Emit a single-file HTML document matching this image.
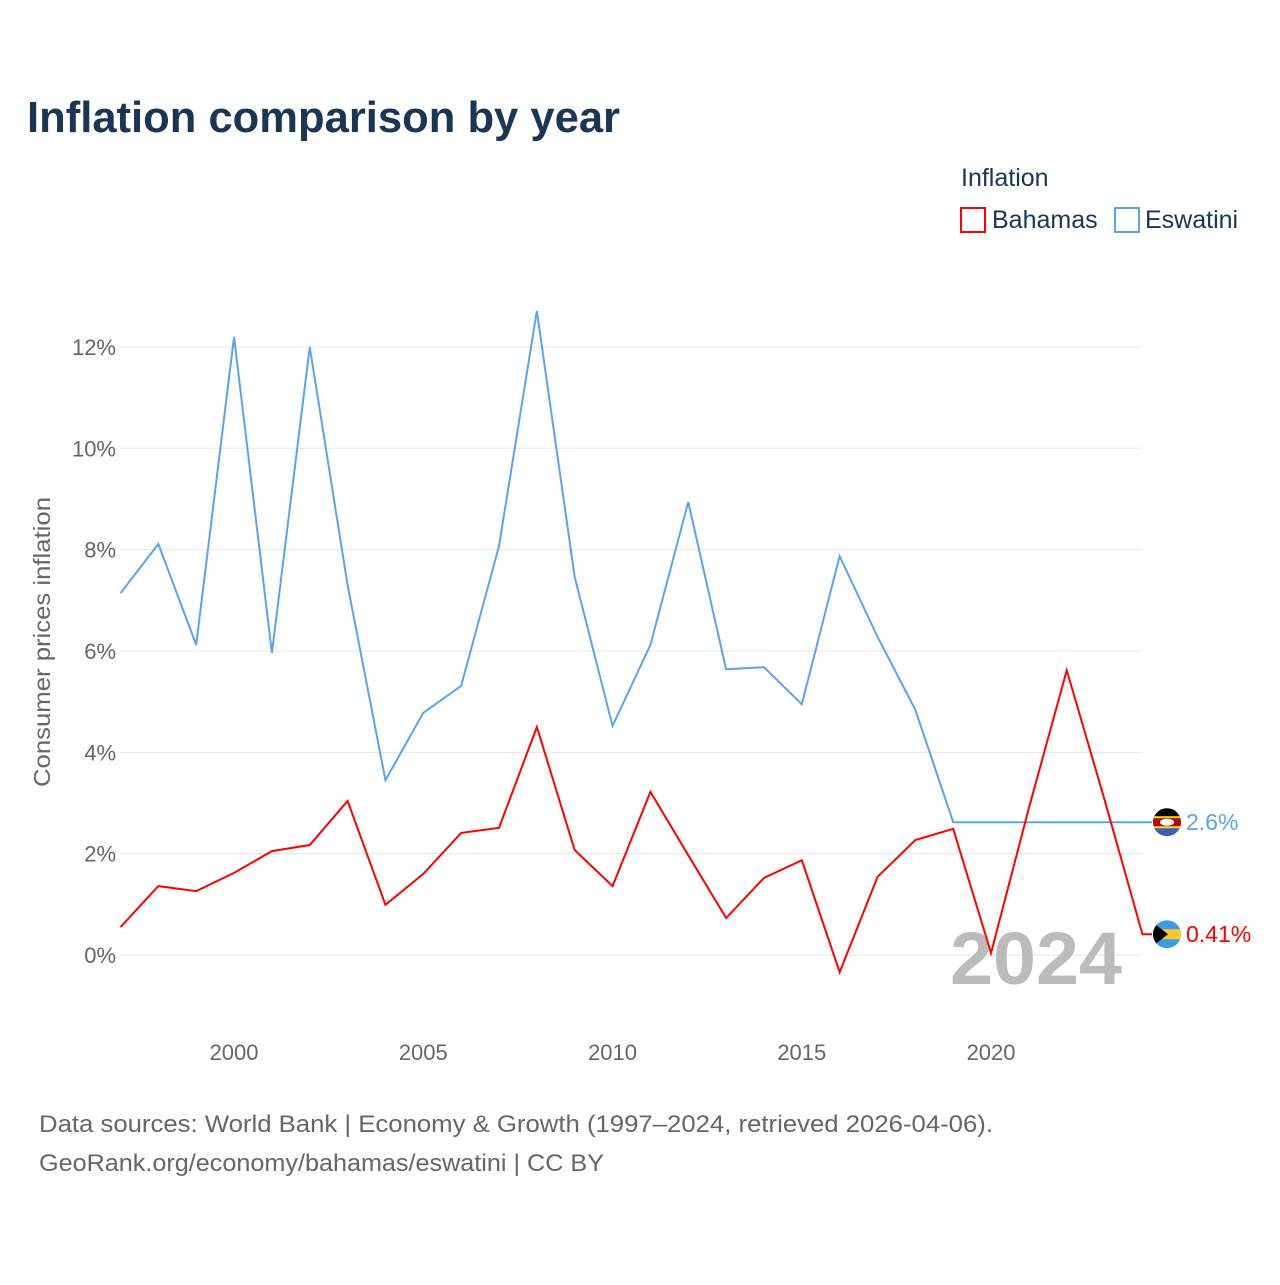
<!DOCTYPE html>
<html><head><meta charset="utf-8"><style>
body{margin:0;background:#fff;font-family:"Liberation Sans",sans-serif;}
</style></head><body>
<svg width="1280" height="1280" viewBox="0 0 1280 1280" xmlns="http://www.w3.org/2000/svg">
<defs><clipPath id="ce"><circle cx="1167" cy="822" r="14"/></clipPath><clipPath id="cb"><circle cx="1167" cy="934" r="14"/></clipPath></defs>
<rect width="1280" height="1280" fill="#fff"/>
<text x="27" y="132" font-size="44" font-weight="bold" fill="#1b3554" textLength="593" lengthAdjust="spacingAndGlyphs">Inflation comparison by year</text>
<text x="961" y="186" font-size="25" fill="#1b3554">Inflation</text>
<g><rect x="961" y="208" width="24" height="24" fill="none" stroke="#f00" stroke-width="2"/><text x="992" y="228" font-size="25" fill="#1b3554">Bahamas</text></g>
<g><rect x="1115" y="208" width="24" height="24" fill="none" stroke="#5aa5ea" stroke-width="2"/><text x="1145" y="228" font-size="25" fill="#1b3554">Eswatini</text></g>
<g id="grid"></g>
<g id="yticks"></g>
<g id="xticks"></g>
<text transform="translate(50,642) rotate(-90)" text-anchor="middle" font-size="23" fill="#666" textLength="290" lengthAdjust="spacingAndGlyphs">Consumer prices inflation</text>
<text x="950" y="984" font-size="74" font-weight="bold" fill="#bbb" textLength="172" lengthAdjust="spacingAndGlyphs">2024</text>
<g id="series"></g>
<text x="39" y="1132" font-size="24" fill="#666" textLength="954" lengthAdjust="spacingAndGlyphs">Data sources: World Bank | Economy &amp; Growth (1997–2024, retrieved 2026-04-06).</text>
<text x="39" y="1171" font-size="24" fill="#666" textLength="565" lengthAdjust="spacingAndGlyphs">GeoRank.org/economy/bahamas/eswatini | CC BY</text>
</svg>
<script>
const years=[1997,1998,1999,2000,2001,2002,2003,2004,2005,2006,2007,2008,2009,2010,2011,2012,2013,2014,2015,2016,2017,2018,2019,2020,2021,2022,2023,2024];
const eswatini=[7.14,8.11,6.12,12.2,5.96,12.0,7.3,3.45,4.78,5.31,8.07,12.71,7.46,4.52,6.12,8.94,5.64,5.68,4.95,7.87,6.28,4.84,2.62];
const bahamas=[0.55,1.36,1.26,1.62,2.05,2.17,3.04,0.99,1.6,2.41,2.51,4.5,2.07,1.36,3.22,1.97,0.73,1.52,1.87,-0.34,1.54,2.27,2.49,0.04,2.9,5.62,3.06,0.41];
const yTicks=[0,2,4,6,8,10,12];
const xTicks=[2000,2005,2010,2015,2020];
const NS="http://www.w3.org/2000/svg";
const x=v=>120.5+(v-1997)*37.85;
const y=v=>955-v*50.67;
function mk(tag,attrs,parent){const e=document.createElementNS(NS,tag);for(const k in attrs)e.setAttribute(k,attrs[k]);parent.appendChild(e);return e;}
const grid=document.getElementById('grid'),yt=document.getElementById('yticks'),xt=document.getElementById('xticks'),ser=document.getElementById('series');
yTicks.forEach(t=>{
 const l=mk('line',{x1:120,x2:1142,y1:y(t),y2:y(t),stroke:'#e6e6e6','stroke-width':1},grid);
 
 
 const tx=mk('text',{x:116,y:y(t)+8,'text-anchor':'end','font-size':22,fill:'#666'},yt);tx.textContent=t+'%';
 
 
});
xTicks.forEach(t=>{
 const tx=mk('text',{x:x(t),y:1060,'text-anchor':'middle','font-size':22,fill:'#666'},xt);tx.textContent=t;
 
 
});
const xEnd=x(2024);
let pe=eswatini.map((v,i)=>x(years[i])+','+y(v));pe.push(xEnd+','+y(eswatini[eswatini.length-1]));pe.push('1152,'+y(eswatini[eswatini.length-1]));
const le=mk('polyline',{points:pe.join(' '),fill:'none',stroke:'#5aa5ea','stroke-width':2},ser);


let pb=bahamas.map((v,i)=>x(years[i])+','+y(v));pb.push('1152,'+y(bahamas[bahamas.length-1]));
const lb=mk('polyline',{points:pb.join(' '),fill:'none',stroke:'#f00','stroke-width':2},ser);


const ye=y(eswatini[eswatini.length-1]),yb=y(bahamas[bahamas.length-1]);
document.querySelector('#ce circle').setAttribute('cy',ye);
document.querySelector('#cb circle').setAttribute('cy',yb);
const fe=mk('g',{'clip-path':'url(#ce)'},ser);


mk('rect',{x:1153,y:ye-14,width:28,height:28,fill:'#3e5eb9'},fe);
mk('rect',{x:1153,y:ye-14,width:28,height:8,fill:'#000'},fe);
mk('rect',{x:1153,y:ye-6,width:28,height:2,fill:'#ffd900'},fe);
mk('rect',{x:1153,y:ye-4,width:28,height:8,fill:'#b10c0c'},fe);
mk('rect',{x:1153,y:ye+4,width:28,height:2,fill:'#ffd900'},fe);
mk('ellipse',{cx:1167,cy:ye,rx:7,ry:3.5,fill:'#fff'},fe);
const fb=mk('g',{'clip-path':'url(#cb)'},ser);


mk('rect',{x:1153,y:yb-14,width:28,height:28,fill:'#3a9be8'},fb);
mk('rect',{x:1153,y:yb-5,width:28,height:10,fill:'#ffc72c'},fb);
mk('path',{d:`M1150 ${yb-14}L1168 ${yb}L1150 ${yb+14}z`,fill:'#000'},fb);
const te=mk('text',{x:1186,y:ye+8,'font-size':23,fill:'#5aa5ea'},ser);te.textContent='2.6%';


const tb=mk('text',{x:1186,y:yb+8,'font-size':23,fill:'#f00'},ser);tb.textContent='0.41%';


</script>
</body></html>
